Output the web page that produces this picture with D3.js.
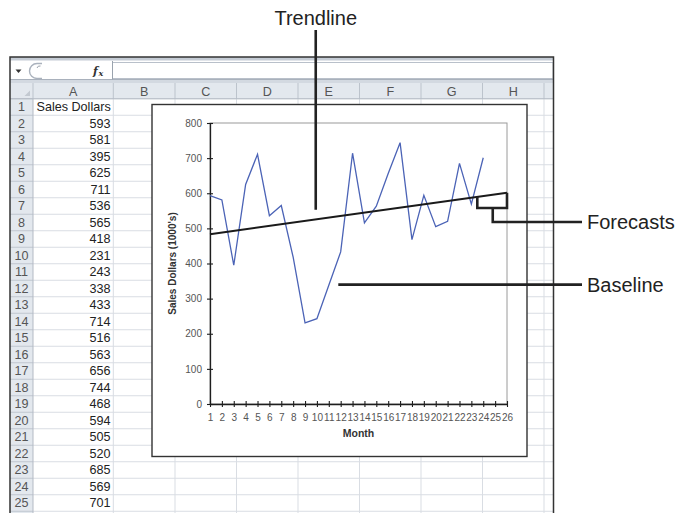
<!DOCTYPE html>
<html>
<head>
<meta charset="utf-8">
<script src="https://cdn.jsdelivr.net/npm/d3@7"></script>
<style>
  body { margin: 0; background: #fff; }
  svg { display: block; font-family: "Liberation Sans", Arial, sans-serif; }
</style>
</head>
<body>
<svg id="sheet" width="681" height="513"></svg>
<script>
// Monthly sales (column A, rows 2-25), in thousands of dollars
const sales = [593, 581, 395, 625, 711, 536, 565, 418, 231, 243, 338, 433,
               714, 516, 563, 656, 744, 468, 594, 505, 520, 685, 569, 701];
const salesHeader = "Sales Dollars";
const monthLabels = ["1","2","3","4","5","6","7","8","9","10","11","12","13",
                     "14","15","16","17","18","19","20","21","22","23","24","25","26"];
const yTicks = [0, 100, 200, 300, 400, 500, 600, 700, 800];
const columnLetters = ["A", "B", "C", "D", "E", "F", "G", "H"];
const forecastPeriods = 2;

const svg = d3.select("#sheet");

// ---------- worksheet ----------
const sheetLeft = 10, sheetRight = 553.5, sheetTop = 57;
const rowNumRight = 33;
const colWidths = [80.3, 61.7, 61.5, 61.5, 61.5, 61.5, 61.5, 61.5];
const colEdges = [rowNumRight];
colWidths.forEach(w => colEdges.push(colEdges[colEdges.length - 1] + w));
const headerTop = 83, rowTop = 98.75, rowH = 16.5, nRows = 26;
const cellFont = 12.6;

const sheet = svg.append("g");

// formula bar strip
sheet.append("rect").attr("x", sheetLeft).attr("y", sheetTop).attr("width", sheetRight - sheetLeft)
  .attr("height", 3.5).attr("fill", "#c5ccd5");
sheet.append("rect").attr("x", sheetLeft).attr("y", 79.5).attr("width", sheetRight - sheetLeft)
  .attr("height", 3.5).attr("fill", "#d3d9e1");
sheet.append("line").attr("x1", sheetLeft).attr("x2", sheetRight).attr("y1", 79.5).attr("y2", 79.5)
  .attr("stroke", "#a9b1bc");
// formula input box
sheet.append("rect").attr("x", 112.5).attr("y", 62.5).attr("width", sheetRight - 113).attr("height", 16)
  .attr("fill", "#fff").attr("stroke", "#b9c0ca");
sheet.append("line").attr("x1", 112.5).attr("x2", 112.5).attr("y1", 61).attr("y2", 79.5)
  .attr("stroke", "#9aa3ae");
// name box arrow
sheet.append("path").attr("d", "M15.5,69.5 L21.5,69.5 L18.5,73 Z").attr("fill", "#333");
// round button
sheet.append("path").attr("d", "M42,63.5 L37,63.5 A7.5,7.5 0 0 0 37,78.5 L42,78.5")
  .attr("fill", "#fff").attr("stroke", "#aab2bd").attr("stroke-width", 1.4);
sheet.append("path").attr("d", "M37,68 A3,3 0 0 1 40.5,66").attr("fill", "none").attr("stroke", "#9aa1ab");
// fx symbol
sheet.append("text").attr("x", 93).attr("y", 74.5).attr("font-family", "'DejaVu Serif', serif")
  .attr("font-style", "italic").attr("font-weight", "bold").attr("font-size", 11).attr("fill", "#333").text("f");
sheet.append("text").attr("x", 98.5).attr("y", 75.5).attr("font-family", "'DejaVu Serif', serif")
  .attr("font-style", "italic").attr("font-weight", "bold").attr("font-size", 8).attr("fill", "#333").text("x");

// column header row
sheet.append("rect").attr("x", sheetLeft).attr("y", headerTop).attr("width", sheetRight - sheetLeft)
  .attr("height", rowTop - headerTop).attr("fill", "#e3e8ee");
// row-number column
sheet.append("rect").attr("x", sheetLeft).attr("y", rowTop).attr("width", rowNumRight - sheetLeft)
  .attr("height", 513 - rowTop).attr("fill", "#e3e8ee");
// corner triangle
sheet.append("path").attr("d", "M30,90.5 L30,96 L24.5,96 Z").attr("fill", "#c3c9d1");

// grid lines
const rowLines = d3.range(nRows + 1).map(k => rowTop + k * rowH);
sheet.selectAll("line.hgrid").data(rowLines).join("line").attr("class", "hgrid")
  .attr("x1", rowNumRight).attr("x2", sheetRight).attr("y1", d => d).attr("y2", d => d)
  .attr("stroke", "#d9dde3");
sheet.selectAll("line.hnum").data(rowLines).join("line").attr("class", "hnum")
  .attr("x1", sheetLeft).attr("x2", rowNumRight).attr("y1", d => d).attr("y2", d => d)
  .attr("stroke", "#c0c6cf");
sheet.selectAll("line.vgrid").data(colEdges.slice(1)).join("line").attr("class", "vgrid")
  .attr("x1", d => d).attr("x2", d => d).attr("y1", rowTop).attr("y2", 513)
  .attr("stroke", "#d9dde3");
sheet.selectAll("line.vhead").data(colEdges).join("line").attr("class", "vhead")
  .attr("x1", d => d).attr("x2", d => d).attr("y1", headerTop).attr("y2", rowTop)
  .attr("stroke", "#bcc3cc");
sheet.append("line").attr("x1", rowNumRight).attr("x2", rowNumRight).attr("y1", rowTop).attr("y2", 513)
  .attr("stroke", "#b3bac4");
sheet.append("line").attr("x1", sheetLeft).attr("x2", sheetRight).attr("y1", rowTop).attr("y2", rowTop)
  .attr("stroke", "#b3bac4");

// column letters
sheet.selectAll("text.col").data(columnLetters).join("text").attr("class", "col")
  .attr("x", (d, i) => (colEdges[i] + colEdges[i + 1]) / 2).attr("y", 95.5)
  .attr("text-anchor", "middle").attr("font-size", cellFont).attr("fill", "#555").text(d => d);
// row numbers
sheet.selectAll("text.rn").data(d3.range(1, nRows)).join("text").attr("class", "rn")
  .attr("x", 21.5).attr("y", d => rowTop + (d - 1) * rowH + 12.6)
  .attr("text-anchor", "middle").attr("font-size", cellFont).attr("fill", "#555").text(d => d);
// column A contents
sheet.append("text").attr("x", 36.5).attr("y", rowTop + 12.6).attr("font-size", cellFont)
  .attr("fill", "#222").text(salesHeader);
sheet.selectAll("text.val").data(sales).join("text").attr("class", "val")
  .attr("x", 110.5).attr("y", (d, i) => rowTop + (i + 1) * rowH + 12.6)
  .attr("text-anchor", "end").attr("font-size", cellFont).attr("fill", "#222").text(d => d);

// outer frame
sheet.append("path")
  .attr("d", `M${sheetLeft},520 V${sheetTop} H${sheetRight} V520`)
  .attr("fill", "none").attr("stroke", "#333").attr("stroke-width", 1.5);

// ---------- embedded chart ----------
const chartBox = { x: 152, y: 104.5, w: 375, h: 352 };
const plot = { left: 210, right: 507, top: 123, bottom: 404 };

svg.append("rect").attr("x", chartBox.x).attr("y", chartBox.y)
  .attr("width", chartBox.w).attr("height", chartBox.h)
  .attr("fill", "#fff").attr("stroke", "#333").attr("stroke-width", 1.4);

const x = d3.scaleLinear().domain([1, monthLabels.length]).range([plot.left, plot.right]);
const y = d3.scaleLinear().domain([0, 800]).range([plot.bottom, plot.top]);

// plot-area border
svg.append("rect").attr("x", plot.left).attr("y", plot.top)
  .attr("width", plot.right - plot.left).attr("height", plot.bottom - plot.top)
  .attr("fill", "none").attr("stroke", "#9a9a9a").attr("stroke-width", 1);

// y axis
const yAxis = svg.append("g").attr("transform", `translate(${plot.left},0)`)
  .call(d3.axisLeft(y).tickValues(yTicks).tickSizeInner(3).tickSizeOuter(0).tickPadding(5));
yAxis.selectAll(".tick line").attr("x1", 3).attr("x2", -3);
// x axis
const xAxis = svg.append("g").attr("transform", `translate(0,${plot.bottom})`)
  .call(d3.axisBottom(x).tickValues(monthLabels.map(Number))
    .tickFormat((d, i) => monthLabels[i]).tickSizeInner(3).tickSizeOuter(0).tickPadding(6.5));
xAxis.selectAll(".tick line").attr("y1", -3).attr("y2", 3);

[yAxis, xAxis].forEach(ax => {
  ax.select(".domain").attr("stroke", "#1e1e1e").attr("stroke-width", 1.3);
  ax.selectAll(".tick line").attr("stroke", "#1e1e1e").attr("stroke-width", 1.1);
  ax.selectAll(".tick text").attr("font-family", "'Liberation Sans', Arial, sans-serif")
    .attr("font-size", 10).attr("fill", "#555");
});

// axis titles
svg.append("text").attr("transform", `translate(176,${(plot.top + plot.bottom) / 2}) rotate(-90)`)
  .attr("text-anchor", "middle").attr("font-size", 10).attr("font-weight", "bold")
  .attr("fill", "#333").text("Sales Dollars (1000's)");
svg.append("text").attr("x", (plot.left + plot.right) / 2).attr("y", 437)
  .attr("text-anchor", "middle").attr("font-size", 10.5).attr("font-weight", "bold")
  .attr("fill", "#333").text("Month");

// sales line
const line = d3.line().x((d, i) => x(i + 1)).y(d => y(d));
svg.append("path").datum(sales).attr("d", line)
  .attr("fill", "none").attr("stroke", "#4b63b6").attr("stroke-width", 1.3)
  .attr("stroke-linejoin", "miter");

// linear trendline (least squares), extended by the forecast periods
const n = sales.length;
const mx = d3.mean(sales, (d, i) => i + 1), my = d3.mean(sales);
const sxy = d3.sum(sales, (d, i) => (i + 1 - mx) * (d - my));
const sxx = d3.sum(sales, (d, i) => (i + 1 - mx) ** 2);
const slope = sxy / sxx, intercept = my - slope * mx;
const trend = t => intercept + slope * t;
const trendSpan = [1, n + forecastPeriods];
svg.append("line")
  .attr("x1", x(trendSpan[0])).attr("y1", y(trend(trendSpan[0])))
  .attr("x2", x(trendSpan[1])).attr("y2", y(trend(trendSpan[1])))
  .attr("stroke", "#1a1a1a").attr("stroke-width", 2);

// ---------- callouts ----------
const callout = svg.append("g").attr("fill", "none").attr("stroke", "#222")
  .attr("stroke-width", 2.6).attr("stroke-linejoin", "miter");

// Trendline pointer
callout.append("line").attr("x1", x(9.9)).attr("x2", x(9.9)).attr("y1", 30).attr("y2", y(553));
// Forecasts bracket under the extended segment
const bracketY = y(558), stemX = x(24.8), labelY = 222;
callout.append("path")
  .attr("d", `M${x(23.5)},${y(trend(23.5))} V${bracketY} H${x(n + forecastPeriods)} V${y(trend(n + forecastPeriods))}`);
callout.append("path").attr("d", `M${stemX},${bracketY} V${labelY} H582`);
// Baseline pointer
callout.append("path").attr("d", `M${x(11.8)},${y(340)} H582`);

const labels = svg.append("g").attr("font-size", 20).attr("fill", "#222");
labels.append("text").attr("x", x(9.9)).attr("y", 25).attr("text-anchor", "middle").text("Trendline");
labels.append("text").attr("x", 587).attr("y", labelY + 7).text("Forecasts");
labels.append("text").attr("x", 587).attr("y", y(340) + 7).text("Baseline");
</script>
</body>
</html>
